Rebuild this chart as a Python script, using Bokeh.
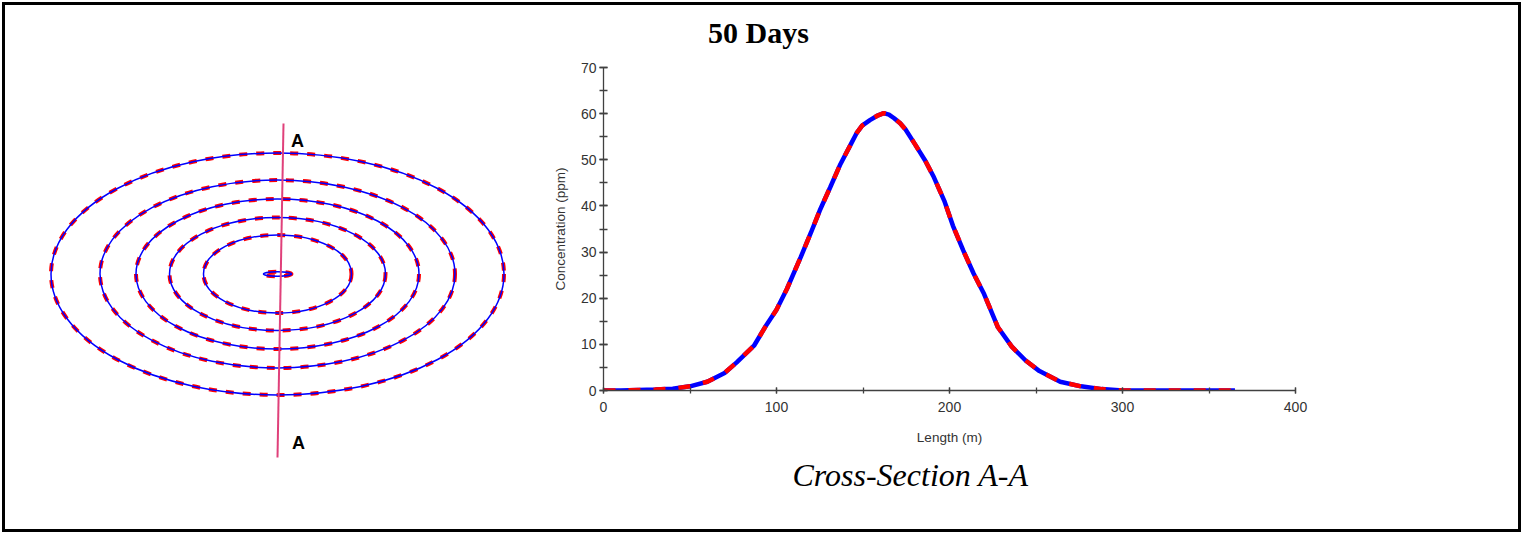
from bokeh.plotting import figure
from bokeh.models import Range1d, Label, SingleIntervalTicker, Div
from bokeh.embed import file_html
from bokeh.resources import INLINE

# ---- Cross-section A-A (concentration along the section) ----
length_m = [0, 10, 20, 30, 40, 50, 60, 70, 77, 87, 94, 100, 106, 114, 120, 125,
            131, 137, 143, 146.5, 149.5, 154, 158, 162, 165, 168, 171.5, 174.5,
            180, 186, 191, 197, 202, 208, 214, 220, 228, 236, 244, 252, 264, 276,
            288, 300, 310, 320, 330, 340, 350, 365]
conc_ppm = [0, 0, 0.1, 0.2, 0.4, 0.9, 1.9, 3.8, 6.1, 9.7, 14.1, 17.5, 22.0, 28.9,
            34.3, 39.0, 44.0, 49.1, 53.4, 55.9, 57.4, 58.6, 59.5, 60.1, 59.8,
            59.0, 57.9, 56.6, 53.4, 49.8, 46.2, 41.1, 35.7, 30.3, 25.3, 20.9,
            13.7, 9.5, 6.5, 4.2, 1.9, 0.9, 0.3, 0, 0, 0, 0, 0, 0, 0]

# ---- Plan view: concentration contours (semi-axes in plan units) ----
contour_cx = [0, 0, 0, 0, 0, 0]
contour_cy = [0, 0, 0, 0, 0, 0]
contour_half_w = [226.5, 177.5, 141.5, 108, 74, 14]
contour_half_h = [121, 94, 75, 56.5, 39, 2.2]

# section line A-A (plan units)
section_x = [6, 0]
section_y = [150.5, -183.5]
section_labels = ["A", "A"]
section_label_x = [20, 21]
section_label_y = [133.5, -168.5]

title_text = "50 Days"
caption_text = "Cross-Section A-A"

# ---------------- Border ----------------
frame_div = Div(text="", width=1519, height=530, margin=0,
                styles={"position": "absolute", "left": "2px", "top": "2px",
                        "border": "3px solid black", "box-sizing": "border-box"})

# ---------------- Background sheet: plan view + title + caption ----------------
sheet = figure(width=1513, height=524,
               x_range=Range1d(-272, 1241), y_range=Range1d(-255.5, 268.5),
               x_axis_location=None, y_axis_location=None,
               output_backend="svg", toolbar_location=None, min_border=0,
               styles={"position": "absolute", "left": "5px", "top": "5px"})
sheet.grid.visible = False
sheet.outline_line_color = None
sheet.background_fill_color = None
sheet.border_fill_color = None

widths = [2 * w for w in contour_half_w]
heights = [2 * h for h in contour_half_h]
sheet.ellipse(x=contour_cx, y=contour_cy, width=widths, height=heights,
              fill_color=None, line_color="#ff0000", line_width=4, line_dash="8 9")
sheet.ellipse(x=contour_cx, y=contour_cy, width=widths, height=heights,
              fill_color=None, line_color="#0000ff", line_width=1.5)
sheet.line(section_x, section_y, line_color="#e0407a", line_width=2)
for t, lx, ly in zip(section_labels, section_label_x, section_label_y):
    sheet.add_layout(Label(x=lx, y=ly, text=t, text_align="center",
                           text_baseline="middle", text_font="Liberation Sans",
                           text_font_style="bold", text_font_size="18px",
                           text_color="black"))

sheet.add_layout(Label(x=481, y=241.5, text=title_text, text_align="center",
                       text_baseline="alphabetic", text_font="Liberation Serif",
                       text_font_style="bold", text_font_size="30px",
                       text_color="black"))
sheet.add_layout(Label(x=633, y=-200.5, text=caption_text, text_align="center",
                       text_baseline="alphabetic", text_font="Liberation Serif",
                       text_font_style="italic", text_font_size="32px",
                       text_color="black"))

# ---------------- Right: cross-section chart ----------------
p = figure(width=988, height=524, x_range=Range1d(0, 400), y_range=Range1d(0, 70),
           output_backend="svg", toolbar_location=None,
           min_border_left=73, min_border_right=223,
           min_border_top=62, min_border_bottom=139,
           styles={"position": "absolute", "left": "530px", "top": "5px"})
p.grid.visible = False
p.outline_line_color = None
p.background_fill_color = None
p.border_fill_color = None

p.line(length_m, conc_ppm, line_color="#0000ff", line_width=4.5)
p.line(length_m, conc_ppm, line_color="#ff0000", line_width=4.5, line_dash="12 13")

p.xaxis.ticker = SingleIntervalTicker(interval=100, num_minor_ticks=2)
p.yaxis.ticker = SingleIntervalTicker(interval=10, num_minor_ticks=2)
p.xaxis.axis_label = "Length (m)"
p.yaxis.axis_label = "Concentration (ppm)"
for ax in (p.xaxis, p.yaxis):
    ax.axis_line_color = "#404040"
    ax.axis_line_width = 1.3
    ax.major_tick_line_color = "#404040"
    ax.minor_tick_line_color = "#404040"
    ax.major_tick_line_width = 1.3
    ax.minor_tick_line_width = 1.3
    ax.major_label_text_font = "Liberation Sans"
    ax.major_label_text_font_size = "14px"
    ax.major_label_text_color = "#333333"
    ax.axis_label_text_font = "Liberation Sans"
    ax.axis_label_text_font_size = "13.5px"
    ax.axis_label_text_font_style = "normal"
    ax.axis_label_text_color = "#333333"
p.xaxis.major_tick_in = 3
p.xaxis.major_tick_out = 3
p.xaxis.minor_tick_in = 3
p.xaxis.minor_tick_out = 3
p.yaxis.major_tick_in = 4
p.yaxis.major_tick_out = 4
p.yaxis.minor_tick_in = 4
p.yaxis.minor_tick_out = 4
p.xaxis.major_label_standoff = 8
p.xaxis.axis_label_standoff = 15
p.yaxis.major_label_standoff = 3
p.yaxis.axis_label_standoff = 10

open("out.html", "w").write(file_html([frame_div, sheet, p], INLINE))
